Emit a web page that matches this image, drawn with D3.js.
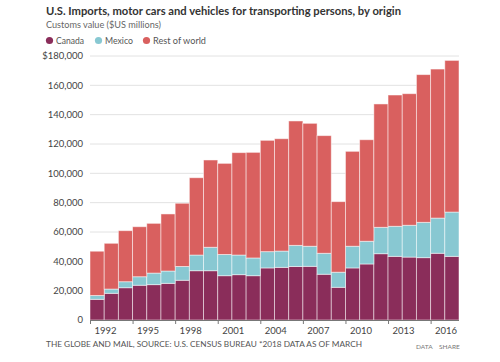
<!DOCTYPE html>
<html>
<head>
<meta charset="utf-8">
<script src="https://cdn.jsdelivr.net/npm/d3@7"></script>
<style>
  html, body { margin: 0; padding: 0; background: #fff; }
  svg { display: block; font-family: Lato, "Open Sans", sans-serif; }
</style>
</head>
<body>
<svg id="chart" width="500" height="362"></svg>
<script>
// ---- data (US$ millions) ----
const years = [1992,1993,1994,1995,1996,1997,1998,1999,2000,2001,2002,2003,2004,2005,2006,2007,2008,2009,2010,2011,2012,2013,2014,2015,2016,2017];
const canada = [14100,18200,22000,23700,24100,25000,27100,33600,33600,30200,30900,30200,35500,35900,36500,36600,31200,22300,35500,38200,45200,43400,42900,42500,45500,43400];
const mexico = [2600,2900,4100,5800,7900,8400,9400,10700,16000,14500,13400,12100,11100,11100,14400,13700,14300,10300,14800,15500,18000,20500,21700,24100,24000,30200];
const restOfWorld = [30200,31200,34800,34100,33900,38900,43100,52700,59500,62100,69800,72000,75900,76600,84800,83800,80200,48100,64700,69200,84100,89500,89700,100700,101600,103400];
const seriesNames = ["Canada","Mexico","Rest of world"];
const seriesColors = ["#8a2d5a","#88c8d2","#d9605f"];
const yTicks = [0,20000,40000,60000,80000,100000,120000,140000,160000,180000];
const xTicks = [1992,1995,1998,2001,2004,2007,2010,2013,2016];

const rows = years.map((y,i) => ({year:y, "Canada":canada[i], "Mexico":mexico[i], "Rest of world":restOfWorld[i]}));
const stacked = d3.stack().keys(seriesNames)(rows);

const svg = d3.select("#chart");
const plotL = 90, plotR = 459, plotT = 56, plotB = 320;

const x = d3.scaleLinear().domain([1992, 2018]).range([plotL, plotR]);
const y = d3.scaleLinear().domain([0, 180000]).range([plotB, plotT]);
const color = d3.scaleOrdinal().domain(seriesNames).range(seriesColors);

// title block
svg.append("text").attr("x", 46).attr("y", 15)
  .attr("font-size", 11.5).attr("font-weight", 700).attr("fill", "#333")
  .attr("textLength", 355).attr("lengthAdjust", "spacingAndGlyphs")
  .text("U.S. Imports, motor cars and vehicles for transporting persons, by origin");
svg.append("text").attr("x", 46).attr("y", 27.5)
  .attr("font-size", 10).attr("fill", "#666")
  .attr("textLength", 115).attr("lengthAdjust", "spacingAndGlyphs")
  .text("Customs value ($US millions)");

// legend
const legendX = [49.5, 98.5, 146.5];
const legendW = [28, 28, 53];
const lg = svg.append("g");
seriesNames.forEach((n,i) => {
  lg.append("circle").attr("cx", legendX[i]).attr("cy", 40.5).attr("r", 3.6).attr("fill", color(n));
  lg.append("text").attr("x", legendX[i] + 6.5).attr("y", 44)
    .attr("font-size", 10).attr("fill", "#555")
    .attr("textLength", legendW[i]).attr("lengthAdjust", "spacingAndGlyphs")
    .text(n);
});

// grid
svg.append("g").selectAll("line").data(yTicks.filter(d => d > 0)).join("line")
  .attr("x1", plotL).attr("x2", plotR)
  .attr("y1", d => y(d)).attr("y2", d => y(d))
  .attr("stroke", "#e2e2e2").attr("stroke-width", 1);

// y labels
svg.append("g").selectAll("text").data(yTicks).join("text")
  .attr("x", 83).attr("y", d => y(d)).attr("dy", "0.35em")
  .attr("text-anchor", "end").attr("font-size", 9.5).attr("fill", "#444")
  .text(d => (d === 180000 ? "$" : "") + d3.format(",")(d));

// bars
svg.append("g").selectAll("g").data(stacked).join("g")
  .attr("fill", d => color(d.key))
  .selectAll("rect").data(d => d).join("rect")
  .attr("x", d => x(d.data.year))
  .attr("width", d => x(d.data.year + 1) - x(d.data.year))
  .attr("y", d => y(d[1]))
  .attr("height", d => y(d[0]) - y(d[1]))
  .attr("stroke", "#ffffff").attr("stroke-opacity", 0.55).attr("stroke-width", 0.9);

// x axis
const xAxis = d3.axisBottom(x).tickValues(xTicks).tickFormat(d3.format("d")).tickSize(4).tickSizeOuter(0);
const gx = svg.append("g").attr("transform", `translate(0,${plotB})`).call(xAxis);
gx.select(".domain").attr("stroke", "#777").attr("d", `M${plotL},0.5H${plotR}`);
gx.selectAll(".tick line").attr("stroke", "#777");
gx.selectAll(".tick text").attr("font-size", 9.5).attr("fill", "#444")
  .attr("font-family", "Lato, sans-serif").attr("dx", 15).attr("y", 7);

// footer
svg.append("text").attr("x", 46).attr("y", 346.5)
  .attr("font-size", 8).attr("fill", "#555")
  .attr("textLength", 316).attr("lengthAdjust", "spacingAndGlyphs")
  .text("THE GLOBE AND MAIL, SOURCE: U.S. CENSUS BUREAU *2018 DATA AS OF MARCH");
svg.append("text").attr("x", 416).attr("y", 349)
  .attr("font-size", 6.5).attr("fill", "#777").text("DATA");
svg.append("text").attr("x", 439).attr("y", 349)
  .attr("font-size", 6.5).attr("fill", "#777").text("SHARE");
</script>
</body>
</html>
